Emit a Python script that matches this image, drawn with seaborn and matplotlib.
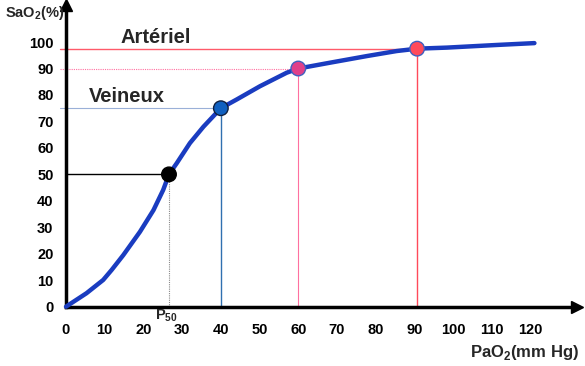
import matplotlib
matplotlib.use("Agg")
import matplotlib.pyplot as plt
import seaborn as sns
import pandas as pd

# Oxygen dissociation curve
pao2 = [0, 0.6, 5.3, 9.6, 11.8, 14.8, 19.1, 22.6, 25.1, 26.6, 28.6, 32, 35.5, 40,
        44.1, 50.1, 57, 60, 68.2, 77.7, 85.4, 90.7, 98.4, 111.3, 121]
sao2 = [0, 0.6, 5.1, 10.1, 13.9, 19.5, 28.3, 36.5, 44.1, 50, 54.2, 61.8, 68.0, 75,
        78.3, 83.3, 88.4, 90, 92.2, 94.7, 96.6, 97.5, 97.9, 98.9, 99.6]

# Key points
pt_x = [26.6, 40, 60, 90.7]
pt_y = [50, 75, 90, 97.5]
pt_names = ["P50", "Veineux", "60", "Artériel"]

xticks = [0, 10, 20, 30, 40, 50, 60, 70, 80, 90, 100, 110, 120]
yticks = [0, 10, 20, 30, 40, 50, 60, 70, 80, 90, 100]

sns.set_style("white")
plt.rcParams['font.family'] = ['Liberation Sans', 'DejaVu Sans']
plt.rcParams['mathtext.fontset'] = 'custom'
plt.rcParams['mathtext.rm'] = 'Liberation Sans:bold'
plt.rcParams['mathtext.bf'] = 'Liberation Sans:bold'

fig = plt.figure(figsize=(5.85, 3.66), dpi=100)
ax = fig.add_axes([66/585, 1 - 306.7/366, (577 - 66)/585, 301.7/366])
ax.set_xlim(0, 132)
ax.set_ylim(0, 114)

# reference lines
ax.plot([-1.5, pt_x[3]], [pt_y[3], pt_y[3]], color="#ff5a6a", lw=1.0, zorder=2, clip_on=False)
ax.plot([pt_x[3], pt_x[3]], [0, pt_y[3]], color="#ff4a5a", lw=1.0, zorder=2)
ax.plot([-1.5, pt_x[2]], [pt_y[2], pt_y[2]], color="#ff70a0", lw=0.8, ls=(0, (1, 1)), zorder=2, clip_on=False)
ax.plot([pt_x[2], pt_x[2]], [0, pt_y[2]], color="#ff70a0", lw=0.8, zorder=2)
ax.plot([-1.5, pt_x[1]], [pt_y[1], pt_y[1]], color="#9ab0d8", lw=0.8, zorder=2, clip_on=False)
ax.plot([pt_x[1], pt_x[1]], [0, pt_y[1]], color="#3070b0", lw=1.0, zorder=2)
ax.plot([0, pt_x[0]], [pt_y[0], pt_y[0]], color="black", lw=1.0, zorder=2)
ax.plot([pt_x[0], pt_x[0]], [0, pt_y[0]], color="#888888", lw=0.8, ls=(0, (1, 1)), zorder=2)

df = pd.DataFrame({"PaO2": pao2, "SaO2": sao2})
sns.lineplot(data=df, x="PaO2", y="SaO2", ax=ax, color="#1a3cc0", lw=3.2,
             sort=False, zorder=3, clip_on=False)

pts = pd.DataFrame({"x": pt_x, "y": pt_y, "name": pt_names})
sns.scatterplot(data=pts, x="x", y="y", hue="name",
                palette=["#000000", "#1060c0", "#e0408a", "#ff4a5a"],
                s=110, edgecolor=["#000000", "#102040", "#4060c0", "#4060c0"],
                linewidth=1.0, legend=False, ax=ax, zorder=4, clip_on=False)

# axes styling
for s in ["top", "right"]:
    ax.spines[s].set_visible(False)
for s in ["left", "bottom"]:
    ax.spines[s].set_linewidth(2.5)
    ax.spines[s].set_color("black")
ax.plot(1, 0, ">k", ms=8, transform=ax.get_yaxis_transform(), clip_on=False)
ax.plot(0, 1, "^k", ms=8, transform=ax.get_xaxis_transform(), clip_on=False)

ax.set_xticks(xticks)
ax.set_yticks(yticks)
ax.tick_params(axis="both", direction="out", length=4, width=1, labelsize=10.5,
               colors="black")
ax.tick_params(axis="x", pad=8)
ax.tick_params(axis="y", pad=5)
for lab in ax.get_xticklabels() + ax.get_yticklabels():
    lab.set_fontweight("bold")
ax.set_xlabel("")
ax.set_ylabel("")

fig.text(5/585, 1 - 13/366, "SaO$_2$(%)", fontsize=10.5, fontweight="bold", va="center", ha="left")
fig.text(579/585, 1 - 352/366, "PaO$_2$(mm Hg)", fontsize=12, fontweight="bold", va="center", ha="right")
ax.text(22.9, -3.3, "P$_{50}$", fontsize=10.5, fontweight="bold", ha="left", va="center")
ax.text(14.0, 98.3, "Artériel", fontsize=14.5, fontweight="bold", ha="left", va="bottom")
ax.text(6.0, 75.8, "Veineux", fontsize=14.5, fontweight="bold", ha="left", va="bottom")

fig.savefig("out.png", dpi=100)
